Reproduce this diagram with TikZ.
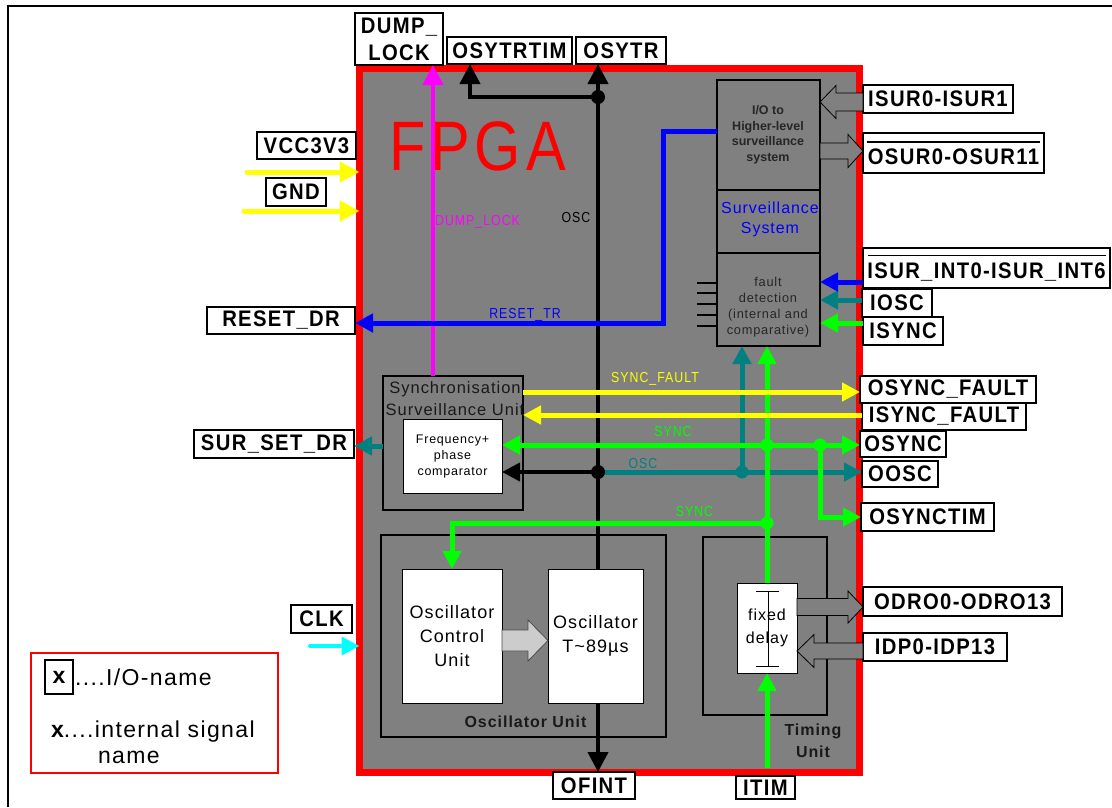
\documentclass[tikz,border=0pt]{standalone}
\usepackage{fontspec}
\setmainfont{Liberation Sans}
\newfontfamily\spfont[LetterSpace=6]{Liberation Sans}
\newfontfamily\iofont[LetterSpace=6,FakeStretch=0.9]{Liberation Sans}
\newfontfamily\lblfont[LetterSpace=7,FakeStretch=0.85]{Liberation Sans}
\newfontfamily\bigfont[LetterSpace=7,FakeStretch=0.85]{Liberation Sans}
\usetikzlibrary{arrows.meta,calc}
\definecolor{fpgagray}{HTML}{808080}
\definecolor{tealc}{HTML}{008080}
\definecolor{grn}{HTML}{00FF00}
\definecolor{yel}{HTML}{FFFF00}
\definecolor{blu}{HTML}{0000FF}
\definecolor{mag}{HTML}{FF00FF}
\definecolor{cyn}{HTML}{00FFFF}
\definecolor{lgray}{HTML}{CCCCCC}
\newcommand\fatarrow[6]{%
  \path[#1] let \p1=#2, \p2=#3 in
    (\x1,{\y1+#4}) -- ({\x2-(#6)},{\y1+#4}) -- ({\x2-(#6)},{\y1+#5}) -- (\x2,\y1)
    -- ({\x2-(#6)},{\y1-#5}) -- ({\x2-(#6)},{\y1-#4}) -- (\x1,{\y1-#4}) -- cycle;}
\tikzset{
  bigtip/.tip={Triangle[length=20pt,width=20pt]},
  midtip/.tip={Triangle[length=18pt,width=18pt]},
}
\begin{document}
\begin{tikzpicture}[x=1pt,y=-1pt,
  every node/.style={inner sep=0pt,outer sep=0pt},
  iobox/.style={draw=black, line width=1.5pt, fill=white, align=center,
    font=\iofont\bfseries\fontsize{22.5}{27}\selectfont},
  unitbox/.style={draw=black, line width=2.5pt},
  whitebox/.style={draw=black, line width=0.8pt, fill=white, align=center},
  sigblk/.style={draw=black, line width=4pt},
  sig/.style={line width=5pt},
  lbl/.style={font=\lblfont\fontsize{14.5}{16}\selectfont},
  hollow/.style={draw=black, line width=0.8pt, fill=fpgagray},
]
\useasboundingbox (0,0) rectangle (1112,807);
\draw[line width=2pt] (8,807) -- (8,6) -- (1112,6);

% ---------- FPGA ----------
\node[draw=red, line width=7pt, fill=fpgagray, minimum width=500pt, minimum height=704pt] (fpga) at (609.5,420) {};
\node[text=red, anchor=base west, font=\bigfont\fontsize{70}{72}\selectfont] (fpgatxt) at (389,170) {FPGA};

% columns and rows
\coordinate (cMag) at (433,0);
\coordinate (cBus) at (598,0);
\coordinate (cTrim) at (470,0);
\coordinate (cTeal) at (742,0);
\coordinate (cGrn) at (767,0);
\coordinate (cGrn2) at (820,0);
\coordinate (cBlue) at (663,0);
\coordinate (rTop) at (0,97);
\coordinate (rOsc) at (0,472);
\coordinate (rSync) at (0,445);
\coordinate (rSync2) at (0,523);
\coordinate (rSF) at (0,392);
\coordinate (rISF) at (0,415);
\coordinate (rRes) at (0,323);
\coordinate (rRes2) at (0,131);
\coordinate (rSSD) at (0,446);
\coordinate (rInt) at (0,282);
\coordinate (rIosc) at (0,300);
\coordinate (rIsync) at (0,323);
\coordinate (rIsur) at (0,102);
\coordinate (rOsur) at (0,151);
\coordinate (rOdro) at (0,607);
\coordinate (rIdp) at (0,651);
\coordinate (rDiv1) at (0,190);
\coordinate (rDiv2) at (0,253);
\coordinate (clkstart) at (310,646);
\coordinate (vccstart) at (247,172);
\coordinate (gndstart) at (244,211);
\coordinate (gsrc) at (767,768);

% ---------- surveillance system ----------
\node[unitbox, minimum width=103pt, minimum height=266pt] (surv) at (768.5,213) {};
\draw[line width=1.2pt] (surv.west |- rDiv1) -- (surv.east |- rDiv1);
\draw[line width=1.2pt] (surv.west |- rDiv2) -- (surv.east |- rDiv2);
\node[align=center, text=black!85, font=\bfseries\fontsize{12.5}{15.5}\selectfont] (survio) at (768,135) {I/O to\\Higher-level\\surveillance\\system};
\node[align=center, text=blu, font=\spfont\fontsize{16}{20}\selectfont] (survname) at (770,219) {Surveillance\\System};
\node[align=center, text=black!85, font=\spfont\fontsize{12.8}{16}\selectfont] (fault) at (768,307) {fault\\detection\\(internal and\\comparative)};
\foreach \ty in {283,293,304,315,326} \draw[line width=1.2pt] (697,\ty) -- (surv.west |- 0,\ty);

% ---------- synchronisation unit ----------
\node[unitbox, minimum width=140pt, minimum height=134pt] (syncu) at (453,443) {};
\node[align=center, text=black!90, font=\spfont\fontsize{16.5}{22}\selectfont] (synctxt) at (455,399) {Synchronisation\\Surveillance Unit};
\node[whitebox, minimum width=99pt, minimum height=74pt, font=\spfont\fontsize{12.5}{16}\selectfont] (freq) at (452.5,456) {Frequency+\\phase\\comparator};

% ---------- oscillator unit ----------
\node[unitbox, minimum width=285pt, minimum height=202pt] (oscu) at (523.5,636) {};
\node[font=\spfont\bfseries\fontsize{16}{18}\selectfont, text=black!90] (osculbl) at (525.5,722) {Oscillator Unit};
\node[whitebox, minimum width=100pt, minimum height=134pt, font=\spfont\fontsize{18}{24}\selectfont] (oscctrl) at (452,636) {Oscillator\\Control\\Unit};
\node[whitebox, minimum width=95pt, minimum height=134pt, font=\spfont\fontsize{18}{24}\selectfont] (osc) at (595.5,636) {Oscillator\\T\textasciitilde 89µs};
\fatarrow{draw=black!70, line width=0.8pt, fill=lgray}{([yshift=-4.5pt]oscctrl.east)}{(osc.west)}{10.5}{20.5}{20}

% ---------- timing unit ----------
\node[unitbox, minimum width=124pt, minimum height=178pt] (timu) at (765,626) {};
\node[align=center, font=\spfont\bfseries\fontsize{16}{22}\selectfont, text=black!90] (timlbl) at (813,741) {Timing\\Unit};
\node[whitebox, minimum width=60pt, minimum height=90pt, font=\spfont\fontsize{16}{23}\selectfont] (fd) at (767,628) {fixed\\delay};
\draw[line width=0.8pt] (756,591) -- (779,591) (768,591) -- (768,666) (756,666) -- (779,666);

% ---------- I/O labels ----------
\node[iobox, minimum width=88pt, minimum height=52pt] (dumplock) at (399,39) {DUMP\_\\LOCK};
\node[iobox, minimum width=125pt, minimum height=27pt] (osytrtim) at (509.5,50.5) {OSYTRTIM};
\node[iobox, minimum width=90pt, minimum height=27pt] (osytr) at (621,50.5) {OSYTR};
\node[iobox, minimum width=99pt, minimum height=27pt] (vcc) at (306.5,145.5) {VCC3V3};
\node[iobox, minimum width=60pt, minimum height=28pt] (gnd) at (296,192) {GND};
\node[iobox, minimum width=148pt, minimum height=27pt] (resetdr) at (281,320.5) {RESET\_DR};
\node[iobox, minimum width=160pt, minimum height=28pt] (sursetdr) at (274,444) {SUR\_SET\_DR};
\node[iobox, minimum width=61pt, minimum height=28pt] (clk) at (321.5,619) {CLK};
\node[iobox, minimum width=150pt, minimum height=28pt] (isur) at (938,99) {ISUR0-ISUR1};
\node[iobox, minimum width=181pt, minimum height=40pt, font=\iofont\bfseries\fontsize{22.5}{22}\selectfont] (osur) at (953.5,153) {\rule{173pt}{1.5pt}\\OSUR0-OSUR11};
\node[iobox, minimum width=247pt, minimum height=40pt, font=\iofont\bfseries\fontsize{22.5}{22}\selectfont] (isurint) at (986.5,268) {\rule{238pt}{1.5pt}\\ISUR\_INT0-ISUR\_INT6};
\node[iobox, minimum width=70pt, minimum height=28pt] (iosc) at (897,303) {IOSC};
\node[iobox, minimum width=80pt, minimum height=28pt] (isync) at (903,331) {ISYNC};
\node[iobox, minimum width=176pt, minimum height=27pt] (osyncfault) at (948,389.5) {OSYNC\_FAULT};
\node[iobox, minimum width=164pt, minimum height=27pt] (isyncfault) at (944,416.5) {ISYNC\_FAULT};
\node[iobox, minimum width=86pt, minimum height=26pt] (osync) at (903,444) {OSYNC};
\node[iobox, minimum width=76pt, minimum height=26pt] (oosc) at (900,474) {OOSC};
\node[iobox, minimum width=133pt, minimum height=28pt] (osynctim) at (927.5,517) {OSYNCTIM};
\node[iobox, minimum width=199pt, minimum height=29pt] (odro) at (962.5,601.5) {ODRO0-ODRO13};
\node[iobox, minimum width=144pt, minimum height=28pt] (idp) at (935,647) {IDP0-IDP13};
\node[iobox, minimum width=82pt, minimum height=27pt] (ofint) at (594,785.5) {OFINT};
\node[iobox, minimum width=59pt, minimum height=23pt] (itim) at (765.5,787.5) {ITIM};

% ---------- internal signal labels ----------
\node[lbl, text=black] (osclbl) at (576,218) {OSC};
\node[lbl, text=mag] (dumplbl) at (477.5,222) {DUMP\_LOCK};
\node[lbl, text=blu] (reslbl) at (525,315) {RESET\_TR};
\node[lbl, text=yel] (sflbl) at (655,379) {SYNC\_FAULT};
\node[lbl, text=grn] (synclbl) at (673,431) {SYNC};
\node[lbl, text=tealc] (osclbl2) at (643,463) {OSC};
\node[lbl, text=grn] (synclbl2) at (694.5,511) {SYNC};

% ---------- connectors ----------
\coordinate (j1) at (cBus |- rTop);
\coordinate (j2) at (cBus |- rOsc);
\coordinate (j3) at (cTeal |- rOsc);
\coordinate (j4) at (cGrn |- rSync);
\coordinate (j5) at (cGrn |- rSync2);
\coordinate (j6) at (cGrn2 |- rSync);

\draw[sigblk, -bigtip] (cBus |- osc.north) -- (cBus |- osytr.south);
\draw[sigblk, -bigtip] (j1) -| (cTrim |- osytrtim.south);
\draw[sigblk, -midtip] (j2) -- (freq.east |- j2);
\draw[sigblk, -bigtip] (cBus |- osc.south) -- (cBus |- ofint.north);
\draw[sig, line width=4pt, mag, -bigtip] (cMag |- syncu.north) -- (cMag |- dumplock.south);

\draw[sig, tealc, -midtip] (j2) -- (oosc.west |- j2);
\draw[sig, tealc, -midtip] (j3) -- (j3 |- surv.south);
\draw[sig, tealc, -midtip] (syncu.west |- rSSD) -- (sursetdr.east |- rSSD);
\draw[sig, tealc, -midtip] (iosc.west |- rIosc) -- (surv.east |- rIosc);

\draw[sig, grn, -midtip] (gsrc) -- (fd.south);
\draw[sig, grn, -midtip] (fd.north) -- (fd.north |- surv.south);
\draw[sig, grn, midtip-midtip] (freq.east |- rSync) -- (osync.west |- rSync);
\draw[sig, grn, -midtip] (j6) |- (osynctim.west);
\draw[sig, grn, -midtip] (j5) -| (oscctrl.north);
\draw[sig, grn, -midtip] (isync.west |- rIsync) -- (surv.east |- rIsync);

\draw[sig, yel, -midtip] (syncu.east |- rSF) -- (osyncfault.west |- rSF);
\draw[sig, yel, -midtip] (isyncfault.west |- rISF) -- (syncu.east |- rISF);
\draw[sig, yel, line cap=round, -bigtip] (vccstart) -- (fpga.west |- vccstart);
\draw[sig, yel, line cap=round, -bigtip] (gndstart) -- (fpga.west |- gndstart);

\draw[sig, blu, -midtip] (surv.west |- rRes2) -| (cBlue |- rRes) -- (resetdr.east |- rRes);
\draw[sig, blu, -midtip] (isurint.west |- rInt) -- (surv.east |- rInt);

\draw[sig, line width=4pt, cyn, line cap=round, -midtip] (clkstart) -- (fpga.west |- clkstart);

\fill (j1) circle (7);
\fill (j2) circle (7);
\fill[tealc] (j3) circle (6.5);
\fill[grn] (j4) circle (6.5);
\fill[grn] (j5) circle (6.5);
\fill[grn] (j6) circle (6.5);

% hollow bus arrows
\fatarrow{hollow}{(isur.west |- rIsur)}{(surv.east)}{9}{16.5}{-16}
\fatarrow{hollow}{(surv.east |- rOsur)}{(osur.west)}{8}{16.5}{15}
\fatarrow{hollow}{(fd.east |- rOdro)}{(odro.west)}{8.5}{16}{15}
\fatarrow{hollow}{(idp.west |- rIdp)}{(fd.east)}{8}{16.5}{-17}

% ---------- legend ----------
\node[draw=red, line width=2pt, minimum width=247pt, minimum height=120pt] (legend) at (154.5,713) {};
\node[draw=black, line width=1.5pt, minimum width=28pt, minimum height=34pt, font=\bfseries\fontsize{23}{24}\selectfont] (legx) at (59,677) {x};
\node[anchor=base west, font=\spfont\fontsize{23}{24}\selectfont] (legio) at (75,685) {....I/O-name};
\node[anchor=base west, font=\spfont\fontsize{23}{24}\selectfont] (legint) at (51,737) {\textbf{x}....internal signal};
\node[anchor=base west, font=\spfont\fontsize{23}{24}\selectfont] (legname) at (98,763) {name};
\end{tikzpicture}
\end{document}
